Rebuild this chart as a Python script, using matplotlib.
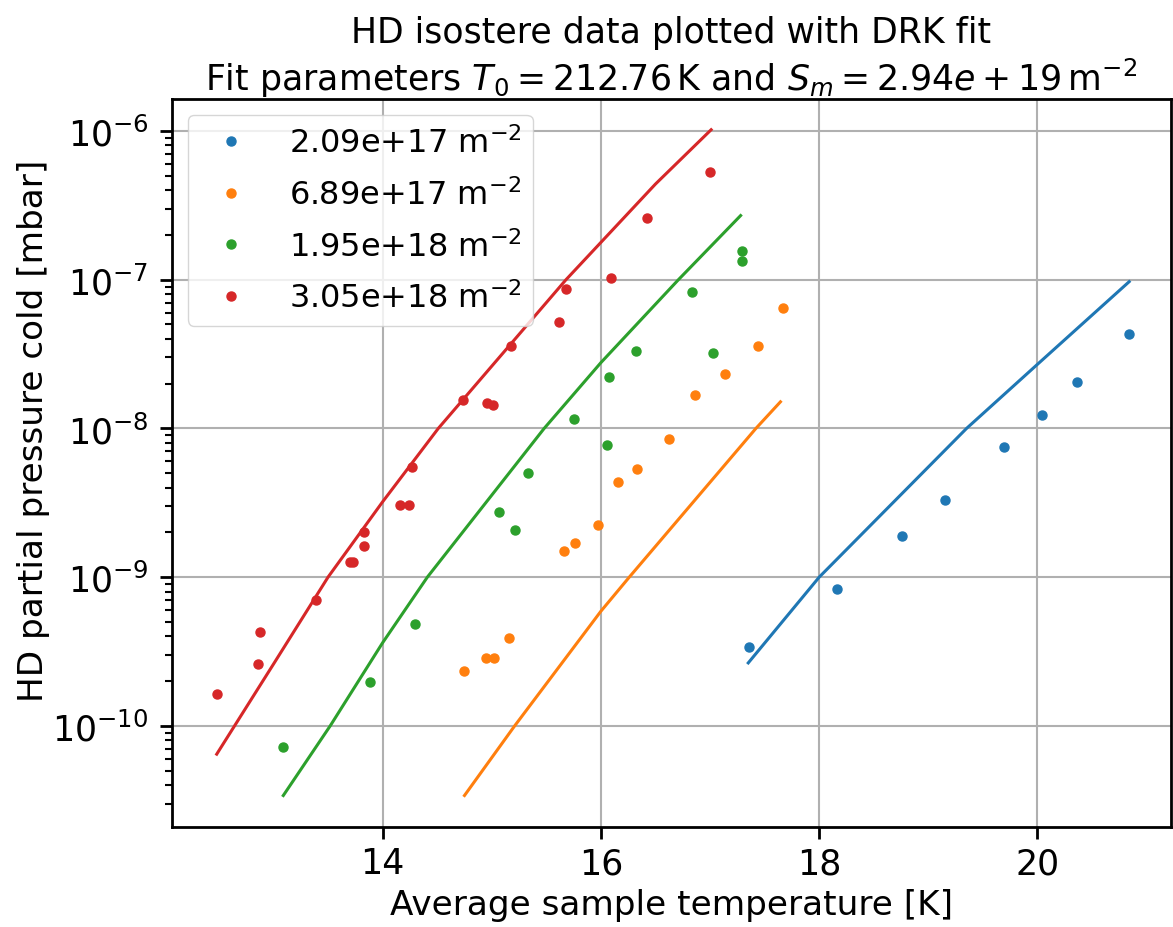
import matplotlib
matplotlib.use("Agg")
import matplotlib.pyplot as plt

# Isostere data: coverage labels, temperatures [K], pressures [mbar]
coverages = ["2.09e+17", "6.89e+17", "1.95e+18", "3.05e+18"]
colors = ["tab:blue", "tab:orange", "tab:green", "tab:red"]

T_blue = [17.36, 18.16, 18.76, 19.15, 19.69, 20.04, 20.36, 20.84]
p_blue = [3.37e-10, 8.3e-10, 1.88e-9, 3.32e-9, 7.53e-9, 1.23e-8, 2.04e-8, 4.31e-8]

T_orange = [14.75, 14.95, 15.02, 15.16, 15.66, 15.76, 15.97, 16.16, 16.33, 16.62,
            16.86, 17.14, 17.44, 17.67]
p_orange = [2.35e-10, 2.88e-10, 2.88e-10, 3.91e-10, 1.5e-9, 1.69e-9, 2.24e-9, 4.39e-9,
            5.37e-9, 8.51e-9, 1.67e-8, 2.31e-8, 3.6e-8, 6.49e-8]

T_green = [13.09, 13.88, 14.30, 15.07, 15.21, 15.33, 15.75, 16.06, 16.07, 16.32,
           16.83, 17.03, 17.29, 17.29]
p_green = [7.23e-11, 1.96e-10, 4.81e-10, 2.75e-9, 2.08e-9, 5.0e-9, 1.16e-8, 7.68e-9,
           2.21e-8, 3.33e-8, 8.23e-8, 3.24e-8, 1.56e-7, 1.33e-7]

T_red = [12.48, 12.86, 12.88, 13.39, 13.70, 13.73, 13.83, 13.83, 14.16, 14.24, 14.27,
         14.74, 14.96, 15.01, 15.18, 15.62, 15.68, 16.09, 16.42, 17.00]
p_red = [1.64e-10, 2.61e-10, 4.25e-10, 7.06e-10, 1.27e-9, 1.27e-9, 1.61e-9, 2.0e-9,
         3.05e-9, 3.05e-9, 5.54e-9, 1.55e-8, 1.48e-8, 1.43e-8, 3.61e-8, 5.17e-8,
         8.63e-8, 1.03e-7, 2.6e-7, 5.34e-7]

# DRK fit curves
fitT_blue = [17.35, 18.0, 19.35, 20.0, 20.84]
fitp_blue = [2.65e-10, 1e-9, 1e-8, 2.7e-8, 9.7e-8]
fitT_orange = [14.75, 15.21, 16.0, 16.26, 17.42, 17.645]
fitp_orange = [3.4e-11, 1e-10, 5.9e-10, 1e-9, 1e-8, 1.51e-8]
fitT_green = [13.09, 13.52, 14.0, 14.41, 15.48, 16.0, 16.71, 17.28]
fitp_green = [3.4e-11, 1e-10, 3.62e-10, 1e-9, 1e-8, 2.77e-8, 1e-7, 2.7e-7]
fitT_red = [12.48, 13.0, 13.5, 14.0, 14.51, 15.68, 16.5, 17.01]
fitp_red = [6.45e-11, 2.6e-10, 1e-9, 3.21e-9, 1e-8, 1e-7, 4.4e-7, 1.02e-6]

data = [(T_blue, p_blue), (T_orange, p_orange), (T_green, p_green), (T_red, p_red)]
fits = [(fitT_blue, fitp_blue), (fitT_orange, fitp_orange),
        (fitT_green, fitp_green), (fitT_red, fitp_red)]

fig = plt.figure(figsize=(11.73, 9.28), dpi=100)
ax = fig.add_axes([0.1466, 0.1078, 0.8514, 0.7844])

for (T, p), c, lab in zip(data, colors, coverages):
    ax.plot(T, p, "o", color=c, markersize=6.5, linestyle="none",
            label=lab + r" m$^{-2}$")
for (T, p), c in zip(fits, colors):
    ax.plot(T, p, "-", color=c, linewidth=2.2)

ax.set_yscale("log")
ax.set_xlim(12.07, 21.22)
ax.set_ylim(10**-10.68, 10**-5.785)
ax.set_xticks([14, 16, 18, 20])
ax.grid(True, which="major", color="#b0b0b0", linewidth=1.5)
ax.tick_params(axis="both", which="major", labelsize=25, length=8.75, width=2, pad=8)
ax.tick_params(axis="x", which="major", pad=5)
ax.tick_params(axis="both", which="minor", length=5, width=1.5)
for s in ax.spines.values():
    s.set_linewidth(2)

ax.set_xlabel("Average sample temperature [K]", fontsize=24.7, labelpad=6)
ax.set_ylabel("HD partial pressure cold [mbar]", fontsize=24.7, labelpad=10)
ax.yaxis.set_label_coords(-0.122, 0.545)
ax.set_title("HD isostere data plotted with DRK fit\n"
             r"Fit parameters $T_0 = 212.76\,\mathrm{K}$ and $S_m = 2.94e+19\,\mathrm{m}^{-2}$",
             fontsize=25, pad=5)
ax.legend(loc="upper left", fontsize=23, labelspacing=0.6, borderpad=0.35)

fig.savefig("out.png", dpi=100)
